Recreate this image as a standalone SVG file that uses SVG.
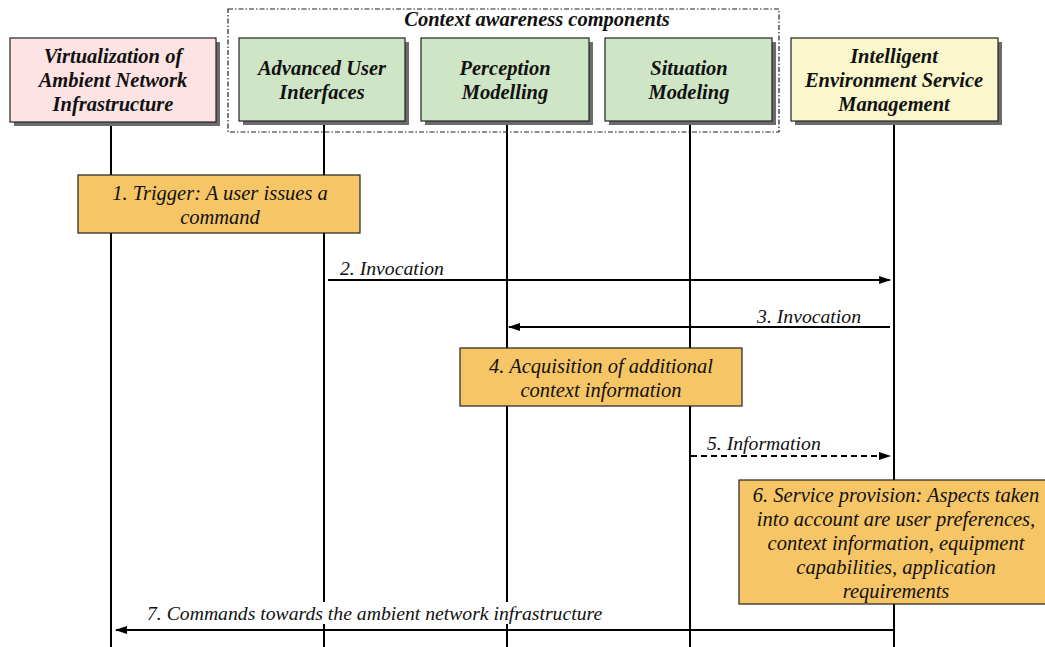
<svg xmlns="http://www.w3.org/2000/svg" width="1045" height="647" viewBox="0 0 1045 647">
<style>
.hdr{stroke:#222;stroke-width:1.2}
.shadow{fill:#6b6b6b}
.ht{font-family:"Liberation Serif","Times New Roman",serif;font-weight:bold;font-style:italic;font-size:20.5px;fill:#111;text-anchor:middle}
.step{fill:#f6c565;stroke:#222;stroke-width:1.2}
.st{font-family:"Liberation Serif","Times New Roman",serif;font-style:italic;font-size:20.5px;fill:#111;text-anchor:middle}
.lbl{font-family:"Liberation Serif","Times New Roman",serif;font-style:italic;font-size:19.7px;fill:#111}
.life{stroke:#000;stroke-width:2;fill:none}
.msg{stroke:#000;stroke-width:2;fill:none}
</style>
<defs>
<marker id="ah" markerWidth="12" markerHeight="10" refX="11" refY="5" orient="auto" markerUnits="userSpaceOnUse">
<path d="M0,1 L12,5 L0,9 Z" fill="#000"/>
</marker>
</defs>
<rect width="1045" height="647" fill="#fff"/>
<g id="lifelines">
<line class="life" x1="111" y1="122" x2="111" y2="647"/>
<line class="life" x1="324" y1="122" x2="324" y2="647"/>
<line class="life" x1="507" y1="122" x2="507" y2="647"/>
<line class="life" x1="690" y1="122" x2="690" y2="647"/>
<line class="life" x1="894" y1="122" x2="894" y2="647"/>
</g>
<g id="group-context">
<rect x="228" y="9" width="551" height="123" fill="none" stroke="#222" stroke-width="1.2" stroke-dasharray="5,2,1.5,2"/>
<text class="ht" x="537" y="26">Context awareness components</text>
</g>
<g id="node-vani">
<rect class="shadow" x="14" y="42" width="206" height="84"/>
<rect class="hdr" x="10" y="38" width="206" height="84" fill="#fde3e3"/>
<text class="ht" x="113" y="63">Virtualization of</text>
<text class="ht" x="113" y="87">Ambient Network</text>
<text class="ht" x="113" y="111">Infrastructure</text>
</g>
<g id="node-aui">
<rect class="shadow" x="243" y="42" width="166" height="83"/>
<rect class="hdr" x="239" y="38" width="166" height="83" fill="#cfe6c6"/>
<text class="ht" x="322" y="75">Advanced User</text>
<text class="ht" x="322" y="99">Interfaces</text>
</g>
<g id="node-pm">
<rect class="shadow" x="425" y="42" width="168" height="83"/>
<rect class="hdr" x="421" y="38" width="168" height="83" fill="#cfe6c6"/>
<text class="ht" x="505" y="75">Perception</text>
<text class="ht" x="505" y="99">Modelling</text>
</g>
<g id="node-sm">
<rect class="shadow" x="609" y="42" width="167" height="83"/>
<rect class="hdr" x="605" y="38" width="167" height="83" fill="#cfe6c6"/>
<text class="ht" x="689" y="75">Situation</text>
<text class="ht" x="689" y="99">Modeling</text>
</g>
<g id="node-iesm">
<rect class="shadow" x="795" y="42" width="207" height="83"/>
<rect class="hdr" x="791" y="38" width="207" height="83" fill="#fbf7cc"/>
<text class="ht" x="894" y="63">Intelligent</text>
<text class="ht" x="894" y="87">Environment Service</text>
<text class="ht" x="894" y="111">Management</text>
</g>
<g id="step1">
<rect class="step" x="78" y="175" width="282" height="58"/>
<text class="st" x="220" y="200">1. Trigger: A user issues a</text>
<text class="st" x="220" y="224">command</text>
</g>
<g id="step4">
<rect class="step" x="460" y="348" width="282" height="58"/>
<text class="st" x="601" y="373">4. Acquisition of additional</text>
<text class="st" x="601" y="397">context information</text>
</g>
<g id="step6">
<rect class="step" x="739" y="480" width="310" height="124"/>
<text class="st" x="896" y="502">6. Service provision: Aspects taken</text>
<text class="st" x="896" y="526">into account are user preferences,</text>
<text class="st" x="896" y="550">context information, equipment</text>
<text class="st" x="896" y="574">capabilities, application</text>
<text class="st" x="896" y="598">requirements</text>
</g>
<g id="connectors">
<line class="msg" x1="328" y1="280" x2="890" y2="280" marker-end="url(#ah)"/>
<text class="lbl" x="340" y="275">2. Invocation</text>
<line class="msg" x1="890" y1="327" x2="509" y2="327" marker-end="url(#ah)"/>
<text class="lbl" x="861" y="323" text-anchor="end">3. Invocation</text>
<line class="msg" x1="691" y1="456" x2="890" y2="456" stroke-dasharray="6,4" marker-end="url(#ah)"/>
<text class="lbl" x="707" y="450">5. Information</text>
<line class="msg" x1="894" y1="630" x2="116" y2="630" marker-end="url(#ah)"/>
<rect x="144" y="602" width="462" height="22" fill="#fff"/>
<text class="lbl" x="147" y="620">7. Commands towards the ambient network infrastructure</text>
</g>
</svg>
